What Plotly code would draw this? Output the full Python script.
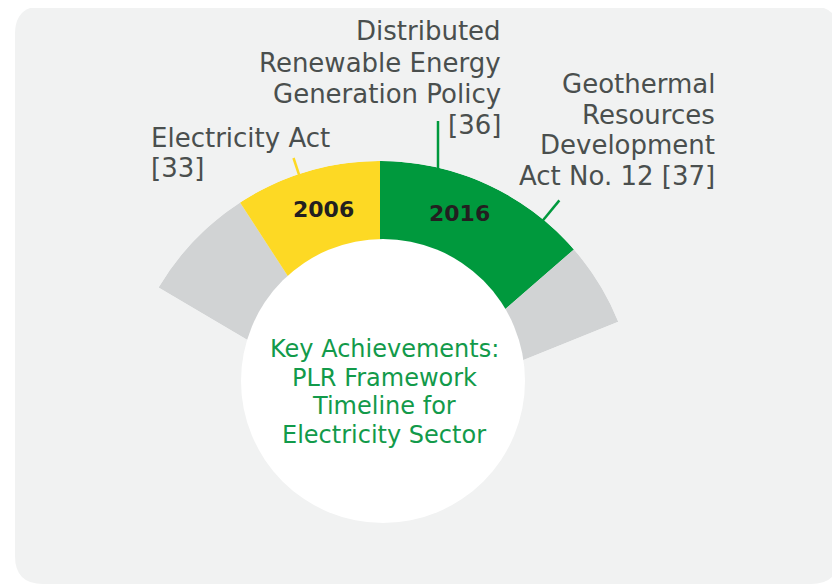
import numpy as np
import plotly.graph_objects as go

W, H = 840, 585
OFF = 8                       # page body margin of the rendered html
FW, FH = W - OFF, H - OFF     # figure size so it fills the window exactly

# ---------------- data ----------------
segment_years = ["", "2006", "2016", ""]
segment_spans = [26.5, 33.0, 49.0, 19.0]          # angular span of each band, degrees
segment_colors = ["#D1D3D4", "#FDD924", "#00993D", "#D1D3D4"]
start_angle = -59.5                                # clockwise from 12 o'clock

center_title = ["Key Achievements:", "PLR Framework", "Timeline for", "Electricity Sector"]
label_2006 = ["Electricity Act", "[33]"]
label_2016a = ["Distributed", "Renewable Energy", "Generation Policy", "[36]"]
label_2016b = ["Geothermal", "Resources", "Development", "Act No. 12 [37]"]

# ---------------- geometry (layout, in window pixels) ----------------
CX, CY, R = 380.0, 418.0, 257.0      # fan centre / outer radius
WCX, WCY, WR = 383.0, 381.0, 142.0   # white disc

def px(x):
    return (x - OFF) / FW

def py(y):
    return 1 - (y - OFF) / FH

def polar_px(ang, r):
    a = np.deg2rad(ang)
    return CX + r * np.sin(a), CY - r * np.cos(a)

spans = np.array(segment_spans)
ends = start_angle + np.cumsum(spans)
centers = ends - spans / 2
total = spans.sum()

sector = [90 - (start_angle + total), 90 - start_angle]
bx0 = np.cos(np.deg2rad(sector[1]))
bx1 = np.cos(np.deg2rad(sector[0]))
dom_x = [px(CX + R * bx0), px(CX + R * bx1)]
dom_y = [py(CY), py(CY - R)]

fig = go.Figure()
fig.add_trace(go.Barpolar(
    r=[1] * len(spans),
    theta=centers,
    width=spans,
    marker=dict(color=segment_colors, line=dict(width=0)),
    hoverinfo="skip",
    showlegend=False,
))

# ---------------- background card ----------------
L, T, Rr, B, rad = 15, 6, 839, 584, 28
path = (
    f"M {px(L+rad)} {py(T)} L {px(Rr-rad)} {py(T)} "
    f"Q {px(Rr)} {py(T)} {px(Rr)} {py(T+rad)} "
    f"L {px(Rr)} {py(B-rad)} Q {px(Rr)} {py(B)} {px(Rr-rad)} {py(B)} "
    f"L {px(L+rad)} {py(B)} Q {px(L)} {py(B)} {px(L)} {py(B-rad)} "
    f"L {px(L)} {py(T+rad)} Q {px(L)} {py(T)} {px(L+rad)} {py(T)} Z"
)
shapes = [dict(type="path", xref="paper", yref="paper", path=path,
               fillcolor="#F1F2F2", line=dict(width=0), layer="below")]

# white disc
shapes.append(dict(type="circle", xref="paper", yref="paper",
                   x0=px(WCX - WR), x1=px(WCX + WR), y0=py(WCY + WR), y1=py(WCY - WR),
                   fillcolor="white", line=dict(width=0), layer="above"))

# leader lines
x0, y0 = polar_px(-18.4, R - 2)
x1, y1 = polar_px(-18.4, R + 17)
shapes.append(dict(type="line", xref="paper", yref="paper", x0=px(x0), y0=py(y0), x1=px(x1), y1=py(y1),
                   line=dict(color="#FDD924", width=2.5), layer="above"))
gx = 438.0
gy = CY - np.sqrt(R**2 - (gx - CX) ** 2) + 2
shapes.append(dict(type="line", xref="paper", yref="paper", x0=px(gx), y0=py(gy), x1=px(gx), y1=py(121),
                   line=dict(color="#00993D", width=2.5), layer="above"))
x0, y0 = polar_px(39.5, R - 2)
x1, y1 = polar_px(39.5, R + 25)
shapes.append(dict(type="line", xref="paper", yref="paper", x0=px(x0), y0=py(y0), x1=px(x1), y1=py(y1),
                   line=dict(color="#00993D", width=2.5), layer="above"))

# ---------------- text ----------------
FONT = "DejaVu Sans"
LAB = "#4A4F4E"
ann = []

def add_lines(lines, x, ys, anchor, size, color, bold=False):
    for t, yy in zip(lines, ys):
        ann.append(dict(text=f"<b>{t}</b>" if bold else t, x=px(x), y=py(yy),
                        xref="paper", yref="paper", xanchor=anchor, yanchor="middle",
                        showarrow=False, font=dict(family=FONT, size=size, color=color)))

add_lines(label_2016a, 503, [31, 63, 94, 125], "right", 26, LAB)
add_lines(label_2006, 149, [138, 168], "left", 26, LAB)
add_lines(label_2016b, 717, [84, 115, 145, 176], "right", 26, LAB)
add_lines(center_title, 384, [349, 378, 406, 435], "center", 24, "#129A4A")
add_lines([segment_years[1]], 323, [210], "center", 22, "#231F20", bold=True)
add_lines([segment_years[2]], 460, [213], "center", 22, "#231F20", bold=True)

fig.update_layout(
    width=FW, height=FH,
    margin=dict(l=0, r=0, t=0, b=0),
    paper_bgcolor="white",
    plot_bgcolor="rgba(0,0,0,0)",
    polar=dict(
        domain=dict(x=dom_x, y=dom_y),
        sector=sector,
        bgcolor="rgba(0,0,0,0)",
        bargap=0,
        hole=0,
        radialaxis=dict(range=[0, 1], visible=False, showgrid=False),
        angularaxis=dict(rotation=90, direction="clockwise", visible=False, showgrid=False),
    ),
    shapes=shapes,
    annotations=ann,
    showlegend=False,
)

fig.write_html("out.html")
